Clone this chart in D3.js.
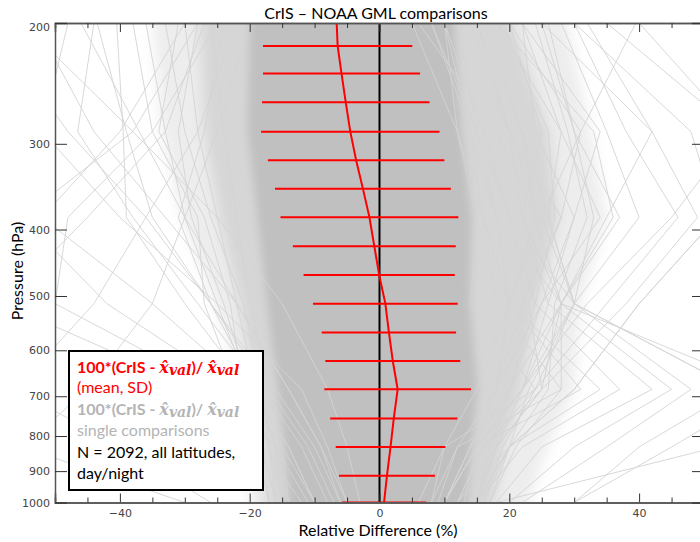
<!DOCTYPE html>
<html><head><meta charset="utf-8">
<script src="https://cdn.jsdelivr.net/npm/d3@7"></script>
<style>
html,body{margin:0;padding:0;background:#fff;}
svg{display:block;}
</style></head>
<body>
<svg id="chart" width="700" height="542"></svg>
<script>
// ---------------- data ----------------
const titleText = "CrIS \u2013 NOAA GML comparisons";
const xTitle = "Relative Difference (%)";
const yTitle = "Pressure (hPa)";
const xMajorTicks = [-40, -20, 0, 20, 40];
const xMinorTicks = [-45, -35, -30, -25, -15, -10, -5, 5, 10, 15, 25, 30, 35, 45];
const yTickValues = [200, 300, 400, 500, 600, 700, 800, 900, 1000];

// mean / SD of 100*(CrIS - x_val)/x_val at pressure levels (hPa)
const pressureLevels = [216, 237, 261, 288, 317, 349, 384, 423, 466, 513, 565, 622, 684, 754, 830, 914, 1000];
const meanDiff = [-6.45, -5.85, -5.2, -4.5, -3.6, -2.55, -1.55, -0.8, -0.05, 0.9, 1.45, 2.05, 2.8, 2.2, 1.7, 1.15, 0.7];
const sdDiff = [11.5, 12.1, 12.9, 13.75, 13.6, 13.55, 13.7, 12.55, 11.65, 11.15, 10.35, 10.4, 11.3, 9.8, 8.45, 7.4, 6.5];
const meanTopPressure = 200;
const meanTopValue = -6.6;

// envelope of the single comparisons (dense core / medium / sparse)
const bandLevels = [200, 288, 384, 513, 684, 830, 1000];
const coreLo = [-20, -20.3, -18.8, -17.3, -15.7, -14.6, -14];
const coreHi = [11.5, 12.6, 14.2, 13.9, 15.1, 14.2, 13.5];
const midLo = [-27.7, -27, -24.7, -21.6, -19.3, -18.2, -17.5];
const midHi = [20.5, 26, 27.5, 24.5, 22, 19.3, 17.5];
const outerLo = [-35, -33.5, -30.5, -25.4, -21, -20.3, -20];
const outerHi = [29, 32.5, 35, 31, 30, 26, 23];

// individual (outlying) single comparisons at bandLevels
const singleComparisons = [
  [-55, -38, -25, -15, -8, -5, -3],
  [-48, -52, -40, -25, -12, -8, -5],
  [-44, -46.5, -38, -28, -18, -12, -8],
  [-43.5, -39, -35, -26, -16, -10, -6],
  [-40.5, -39.5, -39, -30, -20, -14, -10],
  [-46, -37, -30, -22, -14, -9, -6],
  [-53, -44, -33, -22, -14, -9, -5],
  [-60, -48, -36, -26, -17, -11, -7],
  [-30, -40, -52, -35, -20, -14, -10],
  [-28, -38, -55, -42, -22, -15, -10],
  [-25, -35, -48, -50, -25, -16, -11],
  [-27, -33, -45, -58, -28, -18, -12],
  [-20, -25, -30, -35, -45, -55, -30],
  [-22, -28, -36, -44, -56, -40, -26],
  [39.5, 31, 25, 20, 15, 10, 8],
  [30, 48, 52, 40, 30, 20, 15],
  [35, 55, 45, 32, 22, 15, 10],
  [25, 42, 35, 28, 22, 15, 10],
  [20, 31, 28, 22, 18, 14, 10],
  [22, 34, 30, 25, 20, 14, 10],
  [18, 33, 36, 28, 25, 16, 12],
  [22, 28, 34, 25, 18, 12, 9],
  [25, 30, 37, 28, 20, 14, 10],
  [28, 35, 40, 30, 22, 15, 10],
  [30, 38, 46, 35, 24, 16, 12],
  [32, 42, 49, 38, 25, 18, 12],
  [40, 55, 52, 40, 30, 20, 15],
  [10, 12, 15, 14, 24, 10, 6],
  [8, 14, 16, 18, 28, 12, 8],
  [12, 15, 18, 20, 31, 15, 10],
  [5, 12, 16, 20, 34, 20, 12],
  [10, 16, 20, 24, 37, 22, 15],
  [12, 20, 22, 26, 42, 25, 18],
  [6, 18, 24, 28, 45, 30, 20],
  [15, 22, 26, 30, 48, 35, 22],
  [8, 15, 20, 30, 55, 40, 30],
  [10, 14, 18, 28, 60, 45, 30],
  [15, 20, 25, 30, 55, 52, 18],
  [-26, -24, -22, -20, -17, -15, -14],
  [-30, -28, -25, -22, -19, -16, -15],
  [-33, -30, -26, -21, -18, -17, -16],
  [-28, -31, -29, -24, -20, -17, -15],
  [-36, -33, -30, -25, -20, -18, -16],
  [-31, -34, -27, -23, -21, -18, -17],
  [-24, -27, -31, -26, -19, -16, -14],
  [-38, -35, -28, -27, -22, -19, -17],
  [16, 22, 24, 20, 18, 15, 13],
  [19, 26, 27, 24, 20, 17, 15],
  [22, 24, 30, 26, 22, 18, 15],
  [18, 28, 26, 30, 24, 19, 16],
  [24, 29, 32, 27, 26, 20, 17],
  [14, 20, 28, 23, 25, 18, 15],
  [20, 25, 22, 28, 28, 21, 17],
  [26, 30, 33, 30, 23, 20, 16]
];

const legendLines = ["(mean, SD)", "single comparisons", "N = 2092, all latitudes,", "day/night"];

// ---------------- drawing ----------------
const svg = d3.select("#chart");
const plotL = 55, plotR = 704, plotT = 23, plotB = 502.5;
const x = d3.scaleLinear().domain([-50, 50]).range([plotL, plotR]);
const y = d3.scaleLog().domain([200, 1000]).range([plotT, plotB]);

const defs = svg.append("defs");
defs.append("clipPath").attr("id", "plotclip")
  .append("rect").attr("x", plotL).attr("y", plotT).attr("width", plotR - plotL).attr("height", plotB - plotT);
defs.append("filter").attr("id", "hblur").attr("x", "-20%").attr("y", "0%").attr("width", "140%").attr("height", "100%")
  .append("feGaussianBlur").attr("stdDeviation", "7 0");
defs.append("filter").attr("id", "hblur2").attr("x", "-20%").attr("y", "0%").attr("width", "140%").attr("height", "100%")
  .append("feGaussianBlur").attr("stdDeviation", "4 0");

const plot = svg.append("g").attr("clip-path", "url(#plotclip)");

function band(lo, hi) {
  return d3.area()
    .y((d, i) => y(bandLevels[i]))
    .x0((d, i) => x(lo[i]))
    .x1((d, i) => x(hi[i]))(bandLevels);
}
const bandsG = plot.append("g");
bandsG.append("path").attr("d", band(outerLo, outerHi)).attr("fill", "#ededed").attr("filter", "url(#hblur)");
bandsG.append("path").attr("d", band(midLo, midHi)).attr("fill", "#d6d6d6").attr("filter", "url(#hblur)");
bandsG.append("path").attr("d", band(coreLo, coreHi)).attr("fill", "#c0c0c0").attr("filter", "url(#hblur2)");

const profLine = d3.line().x(d => x(d[0])).y(d => y(d[1]));
plot.selectAll("path.single").data(singleComparisons).enter().append("path")
  .attr("class", "single")
  .attr("d", v => profLine(v.map((val, i) => [val, bandLevels[i]])))
  .attr("fill", "none").attr("stroke", "#d4d4d4").attr("stroke-width", 0.9);

// zero line
plot.append("line").attr("x1", x(0)).attr("x2", x(0)).attr("y1", plotT).attr("y2", plotB)
  .attr("stroke", "#000").attr("stroke-width", 2);

// SD bars
plot.selectAll("line.sd").data(pressureLevels).enter().append("line")
  .attr("class", "sd")
  .attr("x1", (p, i) => x(meanDiff[i] - sdDiff[i]))
  .attr("x2", (p, i) => x(meanDiff[i] + sdDiff[i]))
  .attr("y1", p => y(p)).attr("y2", p => y(p))
  .attr("stroke", "#ff0000").attr("stroke-width", 2);

// mean line
const meanPts = [[meanTopValue, meanTopPressure]].concat(pressureLevels.map((p, i) => [meanDiff[i], p]));
plot.append("path").attr("d", profLine(meanPts)).attr("fill", "none")
  .attr("stroke", "#ff0000").attr("stroke-width", 2);

// axes
const tickFont = g => g.selectAll("text").attr("font-family", "DejaVu Sans").attr("font-size", 11).attr("fill", "#444");
const axisStyle = g => { g.select(".domain").attr("stroke", "#555").attr("stroke-width", 1.5); g.selectAll(".tick line").attr("stroke", "#333"); };

svg.append("g").attr("transform", `translate(0,${plotB})`)
  .call(d3.axisBottom(x).tickValues(xMajorTicks).tickSize(-9).tickPadding(7).tickFormat(d3.format("d")))
  .call(tickFont).call(axisStyle);
svg.append("g").attr("transform", `translate(0,${plotB})`)
  .call(d3.axisBottom(x).tickValues(xMinorTicks).tickSize(-5).tickFormat(""))
  .call(axisStyle);
svg.append("g").attr("transform", `translate(0,${plotT})`)
  .call(d3.axisTop(x).tickValues(xMajorTicks).tickSize(-9).tickFormat(""))
  .call(axisStyle);
svg.append("g").attr("transform", `translate(0,${plotT})`)
  .call(d3.axisTop(x).tickValues(xMinorTicks).tickSize(-5).tickFormat(""))
  .call(axisStyle);
const yAxisG = svg.append("g").attr("transform", `translate(${plotL},0)`)
  .call(d3.axisLeft(y).tickValues(yTickValues).tickSize(-12).tickPadding(5).tickFormat(d3.format("d")))
  .call(tickFont).call(axisStyle);
yAxisG.selectAll(".tick").filter(d => d === 200).select("text").attr("dy", "0.72em");
svg.append("g").attr("transform", `translate(${plotR},0)`)
  .call(d3.axisRight(y).tickValues(yTickValues).tickSize(-12).tickFormat(""))
  .call(axisStyle);

// titles
const sans = "Lato, 'Open Sans', sans-serif";
svg.append("text").attr("x", 376).attr("y", 19).attr("text-anchor", "middle")
  .attr("font-family", sans).attr("font-size", 16).attr("fill", "#000").text(titleText);
svg.append("text").attr("x", 378).attr("y", 536).attr("text-anchor", "middle")
  .attr("font-family", sans).attr("font-size", 16).attr("fill", "#000").text(xTitle);
svg.append("text").attr("transform", "translate(23,271) rotate(-90)").attr("text-anchor", "middle")
  .attr("font-family", sans).attr("font-size", 16).attr("fill", "#000").text(yTitle);

// legend
const lg = svg.append("g");
lg.append("rect").attr("x", 69).attr("y", 351).attr("width", 194).attr("height", 139)
  .attr("fill", "#fff").attr("stroke", "#000").attr("stroke-width", 2);

function mathLine(yy, color) {
  const t = lg.append("text").attr("x", 77).attr("y", yy).attr("font-family", sans)
    .attr("font-size", 16).attr("font-weight", "bold").attr("fill", color);
  t.append("tspan").text("100*(CrIS - ");
  t.append("tspan").attr("font-family", "'DejaVu Serif', serif").attr("font-style", "italic").text("x\u0302");
  t.append("tspan").attr("font-family", "'DejaVu Serif', serif").attr("font-style", "italic").attr("font-size", 14).attr("dy", 2).text("val");
  t.append("tspan").attr("dy", -2).text(")/ ");
  t.append("tspan").attr("font-family", "'DejaVu Serif', serif").attr("font-style", "italic").text("x\u0302");
  t.append("tspan").attr("font-family", "'DejaVu Serif', serif").attr("font-style", "italic").attr("font-size", 14).attr("dy", 2).text("val");
}
mathLine(373, "#ff0000");
lg.append("text").attr("x", 77).attr("y", 393).attr("font-family", sans).attr("font-size", 16).attr("fill", "#ff0000").text(legendLines[0]);
mathLine(415, "#b4b4b4");
lg.append("text").attr("x", 77).attr("y", 436).attr("font-family", sans).attr("font-size", 16).attr("fill", "#b4b4b4").text(legendLines[1]);
lg.append("text").attr("x", 77).attr("y", 458).attr("font-family", sans).attr("font-size", 16).attr("fill", "#000").text(legendLines[2]);
lg.append("text").attr("x", 77).attr("y", 479).attr("font-family", sans).attr("font-size", 16).attr("fill", "#000").text(legendLines[3]);
</script>
</body></html>
